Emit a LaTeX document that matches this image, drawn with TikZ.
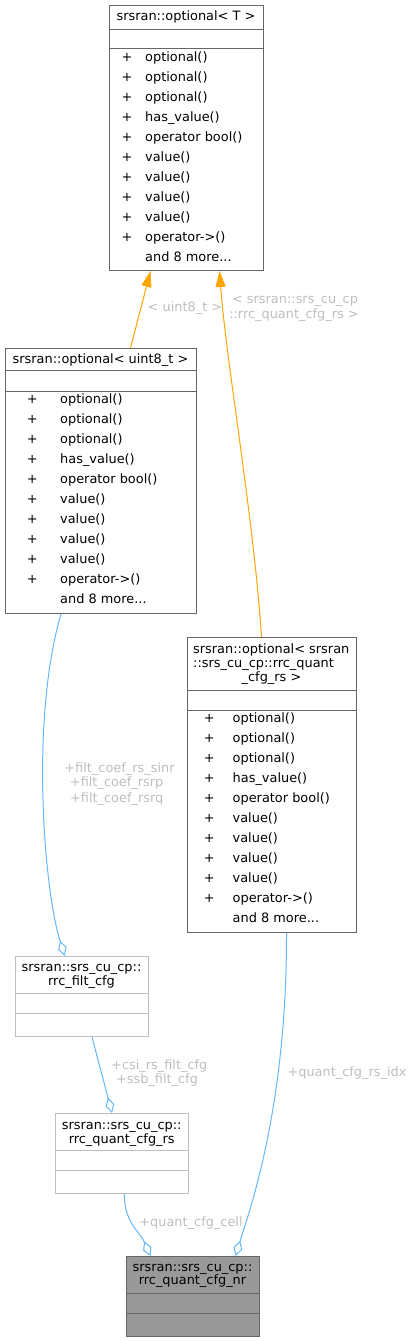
\documentclass[tikz,border=0pt]{standalone}
\usepackage{fontspec}
\setmainfont{DejaVu Sans}
\usetikzlibrary{arrows.meta}
\definecolor{boxgray}{HTML}{666666}
\definecolor{leafgray}{HTML}{BFBFBF}
\definecolor{focusfill}{HTML}{999999}
\definecolor{inheritorange}{HTML}{FFA500}
\definecolor{composeblue}{HTML}{63B8FF}
\definecolor{labelgray}{HTML}{BEBEBE}

\tikzset{
  classbox/.style={draw=boxgray, line width=1pt, inner sep=0pt, anchor=north west, minimum height=265pt},
  leafbox/.style={draw=leafgray, line width=1pt, inner sep=0pt, anchor=north west, minimum width=133pt, minimum height=80pt},
  focusbox/.style={leafbox, draw=boxgray, fill=focusfill},
  member/.style={inner sep=0pt, text height=9pt, text depth=2.5pt, anchor=west},
  plus/.style={member, anchor=center},
  title/.style={member, anchor=center},
  edgelabel/.style={member, anchor=center, text=labelgray},
  inherit/.style={draw=inheritorange, line width=1pt, -{Triangle[length=16pt, width=10pt, fill=inheritorange]}},
  compose/.style={draw=composeblue, line width=1pt, -{Diamond[open, length=16pt, width=9pt, fill=white]}}
}

\begin{document}
\begin{tikzpicture}[x=1pt, y=-1pt, font=\fontsize{12.9}{14.4}\selectfont]
  \useasboundingbox (0,0) rectangle (414,1341);

  % srsran::optional< T >
  \node[classbox, minimum width=154pt] (optT) at (109,5) {};
  \draw[boxgray, line width=1pt] ([yshift=-24pt]optT.north west) -- ([yshift=-24pt]optT.north east);
  \draw[boxgray, line width=1pt] ([yshift=-43pt]optT.north west) -- ([yshift=-43pt]optT.north east);
  \node[title] (optT-title) at (186,17.3) {srsran::optional< T >};
  \foreach \m [count=\i from 0] in {optional(),optional(),optional(),has\_value(),operator bool(),value(),value(),value(),value(),operator->()} {
    \node[plus] (optT-s\i) at (127,58+20*\i) {+};
    \node[member] (optT-m\i) at (145,58+20*\i) {\m};
  }
  \node[member] (optT-more) at (145,258) {and 8 more...};

  % srsran::optional< uint8_t >
  \node[classbox, minimum width=191pt] (optU) at (5,348) {};
  \draw[boxgray, line width=1pt] ([yshift=-22.7pt]optU.north west) -- ([yshift=-22.7pt]optU.north east);
  \draw[boxgray, line width=1pt] ([yshift=-43pt]optU.north west) -- ([yshift=-43pt]optU.north east);
  \node[title] (optU-title) at (100.5,360.7) {srsran::optional< uint8\_t >};
  \foreach \m [count=\i from 0] in {optional(),optional(),optional(),has\_value(),operator bool(),value(),value(),value(),value(),operator->()} {
    \node[plus] (optU-s\i) at (32.3,400+20*\i) {+};
    \node[member] (optU-m\i) at (60,400+20*\i) {\m};
  }
  \node[member] (optU-more) at (60,600) {and 8 more...};

  % srsran::optional< srsran::srs_cu_cp::rrc_quant_cfg_rs >
  \node[classbox, minimum width=169pt, minimum height=295pt] (optQ) at (187,637) {};
  \draw[boxgray, line width=1pt] ([yshift=-53pt]optQ.north west) -- ([yshift=-53pt]optQ.north east);
  \draw[boxgray, line width=1pt] ([yshift=-73pt]optQ.north west) -- ([yshift=-73pt]optQ.north east);
  \node[member] (optQ-t1) at (193,650) {srsran::optional< srsran};
  \node[member] (optQ-t2) at (193,664.3) {::srs\_cu\_cp::rrc\_quant};
  \node[title] (optQ-t3) at (271.5,678.3) {\_cfg\_rs >};
  \foreach \m [count=\i from 0] in {optional(),optional(),optional(),has\_value(),operator bool(),value(),value(),value(),value(),operator->()} {
    \node[plus] (optQ-s\i) at (209.3,719+20*\i) {+};
    \node[member] (optQ-m\i) at (232.5,719+20*\i) {\m};
  }
  \node[member] (optQ-more) at (232.5,919) {and 8 more...};

  % srsran::srs_cu_cp::rrc_filt_cfg
  \node[leafbox] (filt) at (15,956) {};
  \draw[leafgray, line width=1pt] ([yshift=-37pt]filt.north west) -- ([yshift=-37pt]filt.north east);
  \draw[leafgray, line width=1pt] ([yshift=-57pt]filt.north west) -- ([yshift=-57pt]filt.north east);
  \node[title] (filt-t1) at (81.5,968.3) {srsran::srs\_cu\_cp::};
  \node[title] (filt-t2) at (81.5,982.7) {rrc\_filt\_cfg};

  % srsran::srs_cu_cp::rrc_quant_cfg_rs
  \node[leafbox] (quantrs) at (55,1113) {};
  \draw[leafgray, line width=1pt] ([yshift=-37.7pt]quantrs.north west) -- ([yshift=-37.7pt]quantrs.north east);
  \draw[leafgray, line width=1pt] ([yshift=-57.7pt]quantrs.north west) -- ([yshift=-57.7pt]quantrs.north east);
  \node[title] (quantrs-t1) at (121.7,1126) {srsran::srs\_cu\_cp::};
  \node[title] (quantrs-t2) at (121.7,1140) {rrc\_quant\_cfg\_rs};

  % srsran::srs_cu_cp::rrc_quant_cfg_nr
  \node[focusbox] (quantnr) at (126,1256) {};
  \draw[boxgray, line width=1pt] ([yshift=-37pt]quantnr.north west) -- ([yshift=-37pt]quantnr.north east);
  \draw[boxgray, line width=1pt] ([yshift=-57pt]quantnr.north west) -- ([yshift=-57pt]quantnr.north east);
  \node[title] (quantnr-t1) at (192.5,1268.3) {srsran::srs\_cu\_cp::};
  \node[title] (quantnr-t2) at (192.5,1281.7) {rrc\_quant\_cfg\_nr};

  % template instances
  \draw[inherit] ([xshift=29.5pt]optU.north) -- ([xshift=-36pt]optT.south);
  \node[edgelabel] (lblU) at (185,308) {< uint8\_t >};
  \draw[inherit] ([xshift=-10.5pt]optQ.north) .. controls (254,520) and (226,360) .. ([xshift=33pt]optT.south);
  \node[edgelabel] (lblQ1) at (295,300.7) {< srsran::srs\_cu\_cp};
  \node[edgelabel] (lblQ2) at (294,315) {::rrc\_quant\_cfg\_rs >};

  % members
  \draw[compose] ([xshift=-40pt]optU.south) .. controls (30,720) and (44,890) .. ([xshift=-17.2pt]filt.north);
  \node[edgelabel] (lblF1) at (119.5,769) {+filt\_coef\_rs\_sinr};
  \node[edgelabel] (lblF2) at (116.7,783.3) {+filt\_coef\_rsrp};
  \node[edgelabel] (lblF3) at (116.7,799) {+filt\_coef\_rsrq};
  \draw[compose] ([xshift=10pt]filt.south) -- ([xshift=-10pt]quantrs.north);
  \node[edgelabel] (lblC1) at (159.3,1066.7) {+csi\_rs\_filt\_cfg};
  \node[edgelabel] (lblC2) at (157,1080) {+ssb\_filt\_cfg};
  \draw[compose] ([xshift=2.3pt]quantrs.south) .. controls (124,1222) and (140,1232) .. ([xshift=-42.5pt]quantnr.north);
  \node[edgelabel] (lblN1) at (191,1223) {+quant\_cfg\_cell};
  \draw[compose] ([xshift=14.5pt]optQ.south) .. controls (287,1110) and (248,1215) .. ([xshift=42.5pt]quantnr.north);
  \node[edgelabel] (lblN2) at (347,1073) {+quant\_cfg\_rs\_idx};
\end{tikzpicture}
\end{document}
